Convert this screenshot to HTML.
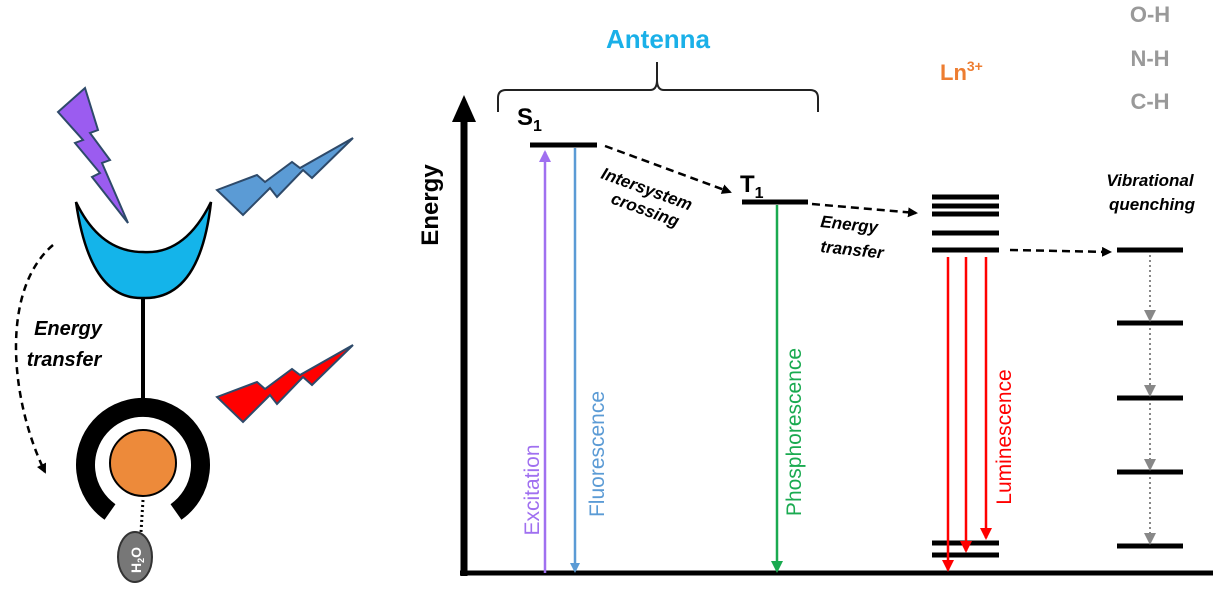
<!DOCTYPE html>
<html><head><meta charset="utf-8"><style>
html,body{margin:0;padding:0;background:#fff;}
svg{display:block;font-family:"Liberation Sans",sans-serif;}
</style></head><body>
<svg width="1213" height="611" viewBox="0 0 1213 611" xmlns="http://www.w3.org/2000/svg">
<defs>
<marker id="ak" markerWidth="10" markerHeight="10" refX="8" refY="5" orient="auto" markerUnits="userSpaceOnUse"><path d="M0,0 L10,5 L0,10 z" fill="#000"/></marker>
<marker id="ap" markerWidth="12" markerHeight="12" refX="10" refY="6" orient="auto" markerUnits="userSpaceOnUse"><path d="M0,0 L12,6 L0,12 z" fill="#a070f0"/></marker>
<marker id="ab" markerWidth="10" markerHeight="10" refX="8" refY="5" orient="auto" markerUnits="userSpaceOnUse"><path d="M0,0 L10,5 L0,10 z" fill="#5b9bd5"/></marker>
<marker id="ag" markerWidth="12" markerHeight="12" refX="10" refY="6" orient="auto" markerUnits="userSpaceOnUse"><path d="M0,0 L12,6 L0,12 z" fill="#1aaa50"/></marker>
<marker id="ar" markerWidth="12" markerHeight="12" refX="10" refY="6" orient="auto" markerUnits="userSpaceOnUse"><path d="M0,0 L12,6 L0,12 z" fill="#f00"/></marker>
<marker id="agr" markerWidth="12" markerHeight="12" refX="10" refY="6" orient="auto" markerUnits="userSpaceOnUse"><path d="M0,0 L12,6 L0,12 z" fill="#888"/></marker>
</defs>

<!-- left figure -->
<polygon points="58,112 85,88 98,130 90,133 110,160 102,163 128,223 92,177 100,173 75,143 83,140" fill="#9b5cf0" stroke="#2e4a6a" stroke-width="2"/>
<polygon points="217,190 257,175 265,182 292,162 300,168 353,138 312,178 303,170 277,197 270,188 243,215" fill="#5b9bd5" stroke="#2e4a6a" stroke-width="2"/>
<polygon points="217,397 257,382 265,389 292,369 300,375 353,345 312,385 303,377 277,404 270,395 243,422" fill="#f00" stroke="#2e4a6a" stroke-width="2"/>
<path d="M76,202 Q90,300 143,298 Q200,300 211,202 Q185,255 143,252 Q100,252 76,202 Z" fill="#14b4ea" stroke="#000" stroke-width="2.5"/>
<line x1="143" y1="298" x2="143" y2="405" stroke="#000" stroke-width="4"/>
<path d="M110,512 A57.5,57.5 0 1 1 176,512" fill="none" stroke="#000" stroke-width="19"/>
<circle cx="143" cy="463" r="33" fill="#ed8a3a" stroke="#000" stroke-width="2"/>
<line x1="143" y1="500" x2="141" y2="532" stroke="#000" stroke-width="3" stroke-dasharray="2,3"/>
<ellipse cx="135" cy="557" rx="17" ry="25" fill="#777" stroke="#333" stroke-width="2"/>
<text x="0" y="0" transform="translate(141,560) rotate(-90)" text-anchor="middle" font-size="14" font-weight="bold" fill="#fff">H<tspan font-size="9" dy="3">2</tspan><tspan dy="-3">O</tspan></text>
<path d="M53,245 C0,290 10,400 45,472" fill="none" stroke="#000" stroke-width="2.5" stroke-dasharray="7,5" marker-end="url(#ak)"/>
<text x="68" y="335" text-anchor="middle" font-size="20" font-style="italic" font-weight="bold">Energy</text>
<text x="64" y="366" text-anchor="middle" font-size="20" font-style="italic" font-weight="bold">transfer</text>

<!-- axes -->
<line x1="464" y1="120" x2="464" y2="576" stroke="#000" stroke-width="7"/>
<polygon points="464,95 452,122 476,122" fill="#000"/>
<line x1="460" y1="573" x2="1213" y2="573" stroke="#000" stroke-width="5"/>
<text transform="translate(438,205) rotate(-90)" text-anchor="middle" font-size="24" font-weight="bold">Energy</text>

<!-- brace -->
<path d="M498,112 L498,98 Q498,90 506,90 L650,90 Q657,90 657,80 L657,62 M657,62 L657,80 Q657,90 664,90 L810,90 Q818,90 818,98 L818,112" fill="none" stroke="#222" stroke-width="2"/>
<text x="658" y="48" text-anchor="middle" font-size="26" font-weight="bold" fill="#1ab0e8">Antenna</text>
<text x="940" y="80" font-size="22" font-weight="bold" fill="#ed7d31">Ln<tspan font-size="14" dy="-9">3+</tspan></text>
<text x="1150" y="22" text-anchor="middle" font-size="22" font-weight="bold" fill="#999">O-H</text>
<text x="1150" y="66" text-anchor="middle" font-size="22" font-weight="bold" fill="#999">N-H</text>
<text x="1150" y="109" text-anchor="middle" font-size="22" font-weight="bold" fill="#999">C-H</text>

<!-- S1 / T1 -->
<text x="517" y="125" font-size="24" font-weight="bold">S<tspan font-size="16" dy="6">1</tspan></text>
<line x1="530" y1="145" x2="597" y2="145" stroke="#000" stroke-width="5"/>
<line x1="545" y1="573" x2="545" y2="152" stroke="#a070f0" stroke-width="2.5" marker-end="url(#ap)"/>
<line x1="575" y1="148" x2="575" y2="571" stroke="#5b9bd5" stroke-width="2.5" marker-end="url(#ab)"/>
<line x1="605" y1="146" x2="730" y2="192" stroke="#000" stroke-width="2.5" stroke-dasharray="8,5" marker-end="url(#ak)"/>
<text transform="translate(600,178) rotate(20)" font-size="17" font-style="italic" font-weight="bold">Intersystem</text>
<text transform="translate(610,203) rotate(20)" font-size="17" font-style="italic" font-weight="bold">crossing</text>
<text x="740" y="192" font-size="24" font-weight="bold">T<tspan font-size="16" dy="6">1</tspan></text>
<line x1="742" y1="202" x2="808" y2="202" stroke="#000" stroke-width="5"/>
<line x1="777" y1="205" x2="777" y2="571" stroke="#1aaa50" stroke-width="2.5" marker-end="url(#ag)"/>
<line x1="812" y1="204" x2="916" y2="213" stroke="#000" stroke-width="2.5" stroke-dasharray="8,5" marker-end="url(#ak)"/>
<text transform="translate(820,227) rotate(6)" font-size="17" font-style="italic" font-weight="bold">Energy</text>
<text transform="translate(820,252) rotate(6)" font-size="17" font-style="italic" font-weight="bold">transfer</text>

<!-- rotated labels -->
<text transform="translate(539,490) rotate(-90)" text-anchor="middle" font-size="21" fill="#a070f0">Excitation</text>
<text transform="translate(604,454) rotate(-90)" text-anchor="middle" font-size="21" fill="#5b9bd5">Fluorescence</text>
<text transform="translate(801,432) rotate(-90)" text-anchor="middle" font-size="21" fill="#1aaa50">Phosphorescence</text>
<text transform="translate(1011,437) rotate(-90)" text-anchor="middle" font-size="21" fill="#f00">Luminescence</text>

<!-- Ln levels -->
<g stroke="#000" stroke-width="5">
<line x1="932" y1="197" x2="999" y2="197"/>
<line x1="932" y1="206" x2="999" y2="206"/>
<line x1="932" y1="214" x2="999" y2="214"/>
<line x1="932" y1="233" x2="999" y2="233"/>
<line x1="932" y1="250" x2="999" y2="250"/>
<line x1="932" y1="543" x2="999" y2="543"/>
<line x1="932" y1="555" x2="999" y2="555"/>
</g>
<g stroke="#f00" stroke-width="2.5">
<line x1="948" y1="257" x2="948" y2="570" marker-end="url(#ar)"/>
<line x1="966" y1="257" x2="966" y2="551" marker-end="url(#ar)"/>
<line x1="986" y1="257" x2="986" y2="538" marker-end="url(#ar)"/>
</g>
<line x1="1010" y1="250" x2="1110" y2="252" stroke="#000" stroke-width="2.5" stroke-dasharray="8,5" marker-end="url(#ak)"/>

<!-- vibrational -->
<text x="1150" y="186" text-anchor="middle" font-size="17" font-style="italic" font-weight="bold">Vibrational</text>
<text x="1152" y="210" text-anchor="middle" font-size="17" font-style="italic" font-weight="bold">quenching</text>
<g stroke="#000" stroke-width="5">
<line x1="1117" y1="250" x2="1183" y2="250"/>
<line x1="1117" y1="323" x2="1183" y2="323"/>
<line x1="1117" y1="398" x2="1183" y2="398"/>
<line x1="1117" y1="472" x2="1183" y2="472"/>
<line x1="1117" y1="546" x2="1183" y2="546"/>
</g>
<g stroke="#888" stroke-width="2" stroke-dasharray="2,3">
<line x1="1150" y1="255" x2="1150" y2="320" marker-end="url(#agr)"/>
<line x1="1150" y1="328" x2="1150" y2="395" marker-end="url(#agr)"/>
<line x1="1150" y1="403" x2="1150" y2="469" marker-end="url(#agr)"/>
<line x1="1150" y1="477" x2="1150" y2="543" marker-end="url(#agr)"/>
</g>
</svg>
</body></html>
